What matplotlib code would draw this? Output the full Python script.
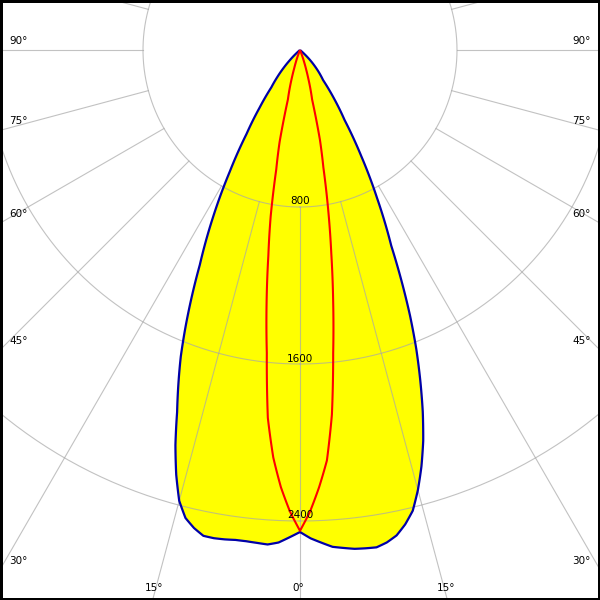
#####################################
# Import Modules
#####################################

import numpy as np
import matplotlib
matplotlib.use("Agg")
import matplotlib.pyplot as plt
from matplotlib.path import Path
from matplotlib.patches import PathPatch

#####################################
# Data - luminous intensity (cd) per gamma angle (deg, 0 = straight down)
#####################################

gamma = [0, 1.25, 2.5, 3.75, 5, 6.25, 7.5, 8.75, 10, 11.25, 12.5,
         13.75, 15, 16.25, 17.5, 18.75, 20, 21.25, 22.5,
         25, 27.5, 30, 32.5, 35, 37.5, 40, 42.5, 45, 47.5, 50]

# blue curve, right half (C0) and left half (C180)
c0 = [2456, 2489, 2513, 2537, 2547, 2557, 2561, 2564, 2548, 2522, 2476,
      2417, 2321, 2211, 2088, 1946, 1792, 1635, 1465,
      1100, 850, 624, 422, 304, 193, 153, 112, 72, 30, 0]
c180 = [2456, 2484, 2512, 2525, 2521, 2518, 2518, 2523, 2526, 2524, 2495,
        2455, 2378, 2254, 2111, 1948, 1812, 1676, 1522,
        1208, 959, 716, 507, 360, 240, 180, 124, 72, 30, 0]

# red curve, right half (C90) and left half (C270)
c90 = [2450, 2352, 2230, 2096, 1865, 1553, 1295, 1048, 828, 611, 470,
       259, 205, 150, 105, 70, 40, 15, 0,
       0, 0, 0, 0, 0, 0, 0, 0, 0, 0, 0]
c270 = [2450, 2352, 2230, 2081, 1881, 1553, 1305, 1060, 860, 620, 480,
        259, 205, 150, 100, 68, 40, 15, 0,
        0, 0, 0, 0, 0, 0, 0, 0, 0, 0, 0]

ring_values = [800, 1600, 2400, 3200]
ring_labels = ["800", "1600", "2400"]
angle_labels = [0, 15, 30, 45, 60, 75, 90]

#####################################
# Layout - 600x600 px, pole at (300, 50) px
#####################################

W, H = 600, 600
CX, CY = 300, 50
PX_PER_CD = 157 / 800
R_MAX = 3400
R_PX = R_MAX * PX_PER_CD

GRID_COLOR = "#a8a8a8"

fig = plt.figure(figsize=(6, 6), dpi=100)
fig.patch.set_facecolor("white")

# polar axes bigger than the figure, centred on the pole
pax = fig.add_axes([(CX - R_PX) / W, (H - CY - R_PX) / H, 2 * R_PX / W, 2 * R_PX / H],
                   projection="polar")
pax.set_theta_zero_location("S")
pax.set_ylim(0, R_MAX)
pax.grid(False)
pax.set_xticks([])
pax.set_yticks([])
pax.spines["polar"].set_visible(False)


def polar_path(values_right, values_left):
    """Closed (theta, r) path, left half reversed then right half."""
    th = np.radians(np.asarray(gamma, dtype=float))
    theta = np.concatenate([-th[::-1], th])
    r = np.concatenate([np.asarray(values_left, float)[::-1], np.asarray(values_right, float)])
    return Path(np.column_stack([theta, r]), _interpolation_steps=24)


blue_path = polar_path(c0, c180)
red_path = polar_path(c90, c270)

pax.add_patch(PathPatch(blue_path, facecolor="#ffff00", edgecolor="none", zorder=1))

#####################################
# Grid - rings and radial lines from the first ring outwards
#####################################

t = np.linspace(0, 2 * np.pi, 721)
for r in ring_values:
    pax.plot(t, np.full_like(t, r), color=GRID_COLOR, lw=0.8, alpha=0.7, zorder=2)

for deg in range(0, 360, 15):
    a = np.radians(deg)
    pax.plot([a, a], [800, R_MAX], color=GRID_COLOR, lw=0.8, alpha=0.7, zorder=2)

pax.add_patch(PathPatch(blue_path, fill=False, edgecolor="#0000a8", lw=1.6,
                        joinstyle="round", zorder=4))
pax.add_patch(PathPatch(red_path, fill=False, edgecolor="#ff0000", lw=1.5,
                        joinstyle="round", zorder=5))

#####################################
# Frame and labels (overlay in pixel units)
#####################################

ax = fig.add_axes([0, 0, 1, 1])
ax.set_xlim(0, W)
ax.set_ylim(H, 0)
ax.patch.set_alpha(0)
ax.set_xticks([])
ax.set_yticks([])
for spine in ax.spines.values():
    spine.set_linewidth(3.6)
    spine.set_color("black")

font = dict(fontsize=7.5, family="DejaVu Sans", color="black")

for value, text in zip(ring_values, ring_labels):
    ax.text(CX, CY + value * PX_PER_CD - 0.5, text, ha="center", va="bottom", **font)

for deg in angle_labels:
    a = np.radians(deg)
    for side in ([1] if deg == 0 else [-1, 1]):
        y_hit = CY + CX / np.tan(a) if deg > 0 else np.inf
        if y_hit < H:
            x = 9 if side < 0 else W - 9
            ax.text(x, y_hit - 4, f"{deg}°", ha="left" if side < 0 else "right",
                    va="bottom", **font)
        else:
            x_hit = CX + side * (H - CY) * np.tan(a)
            ax.text(x_hit - side * 1.5, H - 7, f"{deg}°", ha="center", va="bottom", **font)

fig.savefig("out.png", dpi=100)
